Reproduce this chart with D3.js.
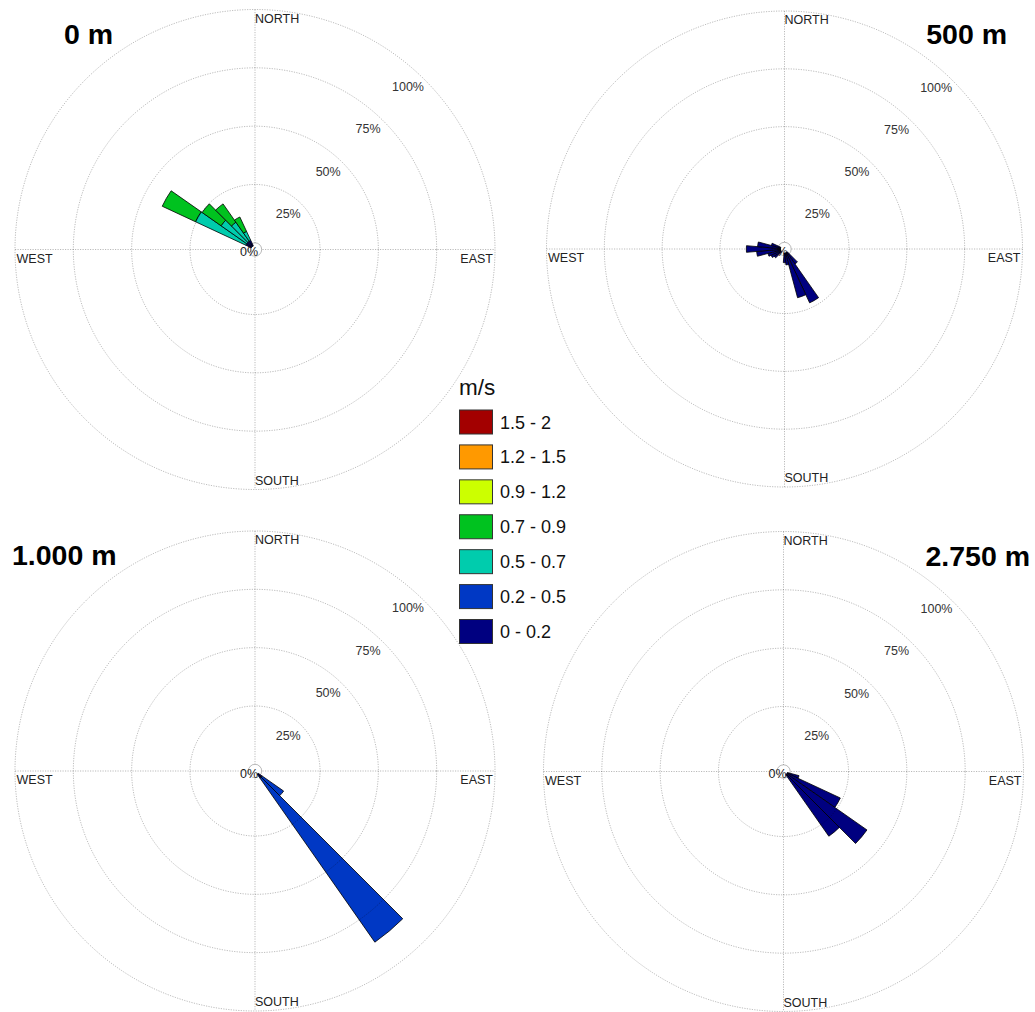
<!DOCTYPE html>
<html>
<head>
<meta charset="utf-8">
<script src="https://cdn.jsdelivr.net/npm/d3@7"></script>
<style>
  html, body { margin: 0; padding: 0; background: #fff; }
  svg { display: block; font-family: "Liberation Sans", Arial, sans-serif; }
</style>
</head>
<body>
<svg id="chart" width="1035" height="1012"></svg>
<script>
// ---------------- data ----------------
// speed classes (m/s), from slowest to fastest
const speedClasses = ["0 - 0.2", "0.2 - 0.5", "0.5 - 0.7", "0.7 - 0.9", "0.9 - 1.2", "1.2 - 1.5", "1.5 - 2"];
const speedColors  = ["#000080", "#0038c4", "#00ccad", "#00c21f", "#ccff00", "#ff9900", "#a30000"];
const unitLabel = "m/s";

// radial ticks (%)
const radialTicks = [25, 50, 75, 100];
const compassLabels = ["NORTH", "EAST", "SOUTH", "WEST"];

// panel titles
const titles = ["0 m", "500 m", "1.000 m", "2.750 m"];

// each row: direction (deg, from north) and % per speed class [0-0.2, 0.2-0.5, 0.5-0.7, 0.7-0.9, 0.9-1.2, 1.2-1.5, 1.5-2]
const dirs0m = [300, 310, 320, 330];
const freq0m = [
  [1.5, 0, 23.8, 15.7, 0, 0, 0],
  [1.5, 0, 13.4,  9.9, 0, 0, 0],
  [1.5, 0,  9.9,  9.6, 0, 0, 0],
  [1.5, 0,  4.2,  6.8, 0, 0, 0]
];

const dirs500m = [140, 150, 160, 170, 180, 230, 240, 250, 260, 270, 280, 290];
const freq500m = [
  [5.0, 0, 0, 0, 0, 0, 0],
  [22.8, 0, 0, 0, 0, 0, 0],
  [18.9, 0, 0, 0, 0, 0, 0],
  [4.0, 0, 0, 0, 0, 0, 0],
  [3.0, 0, 0, 0, 0, 0, 0],
  [2.5, 0, 0, 0, 0, 0, 0],
  [3.5, 0, 0, 0, 0, 0, 0],
  [4.5, 0, 0, 0, 0, 0, 0],
  [9.2, 0, 0, 0, 0, 0, 0],
  [13.6, 0, 0, 0, 0, 0, 0],
  [8.8, 0, 0, 0, 0, 0, 0],
  [3.0, 0, 0, 0, 0, 0, 0]
];

const dirs1000m = [130, 140];
const freq1000m = [
  [0.8, 11.3, 0, 0, 0, 0, 0],
  [0.8, 85.9, 0, 0, 0, 0, 0]
];

const dirs2750m = [110, 120, 130, 140];
const freq2750m = [
  [4.0, 0, 0, 0, 0, 0, 0],
  [24.0, 0, 0, 0, 0, 0, 0],
  [40.8, 0, 0, 0, 0, 0, 0],
  [31.0, 0, 0, 0, 0, 0, 0]
];

// ---------------- layout ----------------
const binWidth = 10; // degrees per sector
const panels = [
  { title: titles[0], dirs: dirs0m,    freq: freq0m,    cx: 255,   cy: 249.5, R: 240, tx: 64,   ty: 44,  anchor: "start" },
  { title: titles[1], dirs: dirs500m,  freq: freq500m,  cx: 784.5, cy: 249,   R: 238, tx: 1007, ty: 44,  anchor: "end" },
  { title: titles[2], dirs: dirs1000m, freq: freq1000m, cx: 255,   cy: 771,   R: 240, tx: 12,   ty: 565, anchor: "start" },
  { title: titles[3], dirs: dirs2750m, freq: freq2750m, cx: 783.5, cy: 771.5, R: 240, tx: 1030, ty: 566, anchor: "end" }
];

const svg = d3.select("#chart");
const toRad = d => d * Math.PI / 180;
const r0 = 6.7;

panels.forEach(p => {
  const g = svg.append("g").attr("transform", `translate(${p.cx},${p.cy})`);
  const r = d3.scaleLinear().domain([0, 100]).range([r0, p.R]);

  const gridStyle = sel => sel
    .attr("fill", "none")
    .attr("stroke", "#000")
    .attr("stroke-opacity", 0.3)
    .attr("stroke-width", 0.9)
    .attr("stroke-dasharray", "1.2,1.3");

  // cross lines
  g.append("line").attr("x1", -p.R).attr("x2", p.R).attr("y1", 0).attr("y2", 0).call(gridStyle);
  g.append("line").attr("y1", -p.R).attr("y2", p.R).attr("x1", 0).attr("x2", 0).call(gridStyle);

  // inner 0% circle (white)
  g.append("circle").attr("r", r0).attr("fill", "#fff").call(sel => sel.attr("stroke", "#000").attr("stroke-opacity", 0.3).attr("stroke-width", 0.9));

  // radial tick labels
  const la = toRad(46.8);
  g.selectAll("text.rt").data(radialTicks).join("text")
    .attr("class", "rt")
    .attr("x", d => (r(d) - 16.5) * Math.cos(la))
    .attr("y", d => -(r(d) - 16.5) * Math.sin(la))
    .attr("text-anchor", "middle")
    .attr("dominant-baseline", "central")
    .attr("font-size", 12.5)
    .attr("fill", "#333")
    .text(d => d + "%");

  g.append("text")
    .attr("x", -6).attr("y", 2.5)
    .attr("text-anchor", "middle").attr("dominant-baseline", "central")
    .attr("font-size", 12.5).attr("fill", "#222")
    .text("0%");

  // compass labels
  const lab = [
    { t: compassLabels[0], x: 0,          y: -p.R + 13, a: "start" },
    { t: compassLabels[1], x: p.R - 2,    y: 13,        a: "end" },
    { t: compassLabels[2], x: 0,          y: p.R - 5,   a: "start" },
    { t: compassLabels[3], x: -p.R + 1.5, y: 13,        a: "start" }
  ];
  g.selectAll("text.cl").data(lab).join("text")
    .attr("class", "cl")
    .attr("x", d => d.x).attr("y", d => d.y)
    .attr("text-anchor", d => d.a)
    .attr("font-size", 12.5)
    .attr("fill", "#222")
    .text(d => d.t);

  // petals: stacked segments
  const segs = [];
  p.dirs.forEach((dir, i) => {
    let cum = 0;
    p.freq[i].forEach((v, k) => {
      if (v > 0) {
        segs.push({ dir, k, from: cum, to: cum + v });
      }
      cum += v;
    });
  });
  const arc = d3.arc()
    .innerRadius(d => d.from === 0 ? r0 * 0.6 : r(d.from))
    .outerRadius(d => r(d.to))
    .startAngle(d => toRad(d.dir - binWidth / 2))
    .endAngle(d => toRad(d.dir + binWidth / 2));
  g.selectAll("path.petal").data(segs).join("path")
    .attr("class", "petal")
    .attr("d", arc)
    .attr("fill", d => speedColors[d.k])
    .attr("stroke", "#000")
    .attr("stroke-width", 0.8)
    .attr("stroke-linejoin", "round");

  // rings (drawn over petals)
  g.selectAll("circle.ring").data(radialTicks).join("circle")
    .attr("class", "ring")
    .attr("r", d => r(d))
    .call(gridStyle);

  // title
  svg.append("text")
    .attr("x", p.tx).attr("y", p.ty)
    .attr("text-anchor", p.anchor)
    .attr("font-size", 28.5)
    .attr("font-weight", "bold")
    .attr("fill", "#000")
    .text(p.title);
});

// ---------------- legend ----------------
const legend = svg.append("g");
legend.append("text")
  .attr("x", 459).attr("y", 395)
  .attr("font-size", 22.5)
  .attr("fill", "#111")
  .text(unitLabel);

const legendOrder = d3.range(speedClasses.length).reverse();
const ly = d3.scalePoint().domain(legendOrder).range([410, 619.5]);
const items = legend.selectAll("g.item").data(legendOrder).join("g")
  .attr("class", "item")
  .attr("transform", k => `translate(459.5,${ly(k)})`);
items.append("rect")
  .attr("width", 33).attr("height", 24)
  .attr("fill", k => speedColors[k])
  .attr("stroke", "#333").attr("stroke-width", 1);
items.append("text")
  .attr("x", 40.5).attr("y", 12.5)
  .attr("dominant-baseline", "central")
  .attr("font-size", 18)
  .attr("fill", "#111")
  .text(k => speedClasses[k]);
</script>
</body>
</html>
